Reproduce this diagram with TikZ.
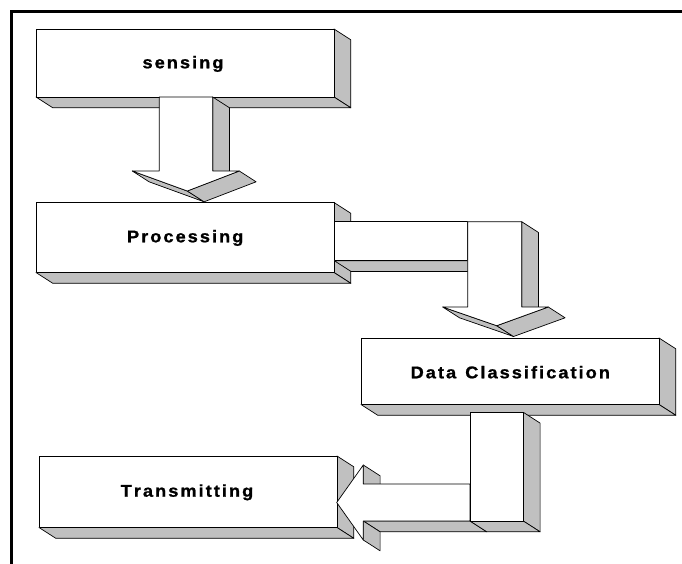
\documentclass[tikz,border=0pt]{standalone}
\usepackage{fontspec}
\setmainfont{Liberation Sans}[BoldFont={Liberation Sans Bold},BoldFeatures={FakeBold=1}]
\definecolor{sil}{RGB}{192,192,192}
\def\dx{16.8}
\def\dy{10.8}
% letter-spaced text
\def\lsend{\lsend}
\def\ls#1{\scalebox{1.07}[1]{\lsA#1\lsend}}
\def\lsA#1{#1\futurelet\lsnext\lsB}
\def\lsB{\ifx\lsnext\lsend\expandafter\lsC\else\kern1.9pt\expandafter\lsA\fi}
\def\lsC\lsend{}
\newcommand{\threedbox}[4]{% x1,y1,x2,y2
  \draw[face] (#3,#2) -- (#3+\dx,#2+\dy) -- (#3+\dx,#4+\dy) -- (#3,#4) -- cycle;
  \draw[face] (#1,#4) -- (#3,#4) -- (#3+\dx,#4+\dy) -- (#1+\dx,#4+\dy) -- cycle;
  \draw[front] (#1,#2) rectangle (#3,#4);
}
\tikzset{
  face/.style={fill=sil, draw=black, line width=0.7pt, line join=round},
  front/.style={fill=white, draw=black, line width=0.7pt, line join=round},
  lbl/.style={anchor=base, inner sep=0pt, font=\fontsize{17}{19}\selectfont\bfseries},
  frame/.style={draw=black, line width=2.4pt}
}
\begin{document}
\begin{tikzpicture}[x=1pt,y=-1pt]
\useasboundingbox (0,0) rectangle (682,563);
\fill[white] (0,0) rectangle (682,563);
\draw[frame] (11.5,570) -- (11.5,11.3) -- (690,11.3);

% boxes
\threedbox{36}{29}{334}{97}
\threedbox{36}{202.5}{334}{272.5}
\threedbox{361}{338}{659}{404.5}
\threedbox{39}{456}{337}{527.5}

\node[lbl] (sensing) at (183,68.3) {\ls{sensing}};
\node[lbl] (processing) at (185.2,242.3) {\ls{Processing}};
\node[lbl] (dataclass) at (510.3,378.3) {\ls{Data~Classification}};
\node[lbl] (transmit) at (187,496.7) {\ls{Transmitting}};

% arrow 1: sensing -> processing
\draw[face] (212.7,97) -- (229.5,107.8) -- (229.5,181.8) -- (212.7,171) -- cycle;
\draw[face] (132.3,171) -- (187.3,191) -- (204.1,201.8) -- (149.1,181.8) -- cycle;
\draw[face] (187.3,191) -- (239.3,171) -- (256.1,181.8) -- (204.1,201.8) -- cycle;
\draw[front] (159.3,97) -- (212.7,97) -- (212.7,171) -- (239.3,171) -- (187.3,191) -- (132.3,171) -- (159.3,171) -- cycle;

% arrow 2: processing -> data classification
\draw[face] (334.3,260.7) -- (467.7,260.7) -- (484.5,271.5) -- (351.1,271.5) -- cycle;
\draw[front] (334.3,221.7) rectangle (467.7,260.7);
\draw[face] (521.7,221.7) -- (538.5,232.5) -- (538.5,317.8) -- (521.7,307) -- cycle;
\draw[face] (442.7,307) -- (496.7,325.7) -- (513.5,336.5) -- (459.5,317.8) -- cycle;
\draw[face] (496.7,325.7) -- (548.3,307) -- (565.1,317.8) -- (513.5,336.5) -- cycle;
\draw[front] (467.7,221.7) -- (521.7,221.7) -- (521.7,307) -- (548.3,307) -- (496.7,325.7) -- (442.7,307) -- (467.7,307) -- cycle;

% arrow 3: data classification -> transmitting
\draw[face] (363.3,465) -- (380.1,475.8) -- (380.1,494.8) -- (363.3,484) -- cycle;
\draw[face] (363.3,521) -- (470,521) -- (486.8,531.8) -- (380.1,531.8) -- cycle;
\draw[face] (363.3,521) -- (380.1,531.8) -- (380.1,550.8) -- (363.3,540) -- cycle;
\draw[front] (470,484) -- (363.3,484) -- (363.3,465) -- (336.7,502.5) -- (363.3,540) -- (363.3,521) -- (470,521) -- cycle;
\draw[face] (523.3,412.3) -- (540.1,423.1) -- (540.1,531.8) -- (523.3,521) -- cycle;
\draw[face] (470,521) -- (523.3,521) -- (540.1,531.8) -- (486.8,531.8) -- cycle;
\draw[front] (470,412.3) rectangle (523.3,521);
\end{tikzpicture}
\end{document}
